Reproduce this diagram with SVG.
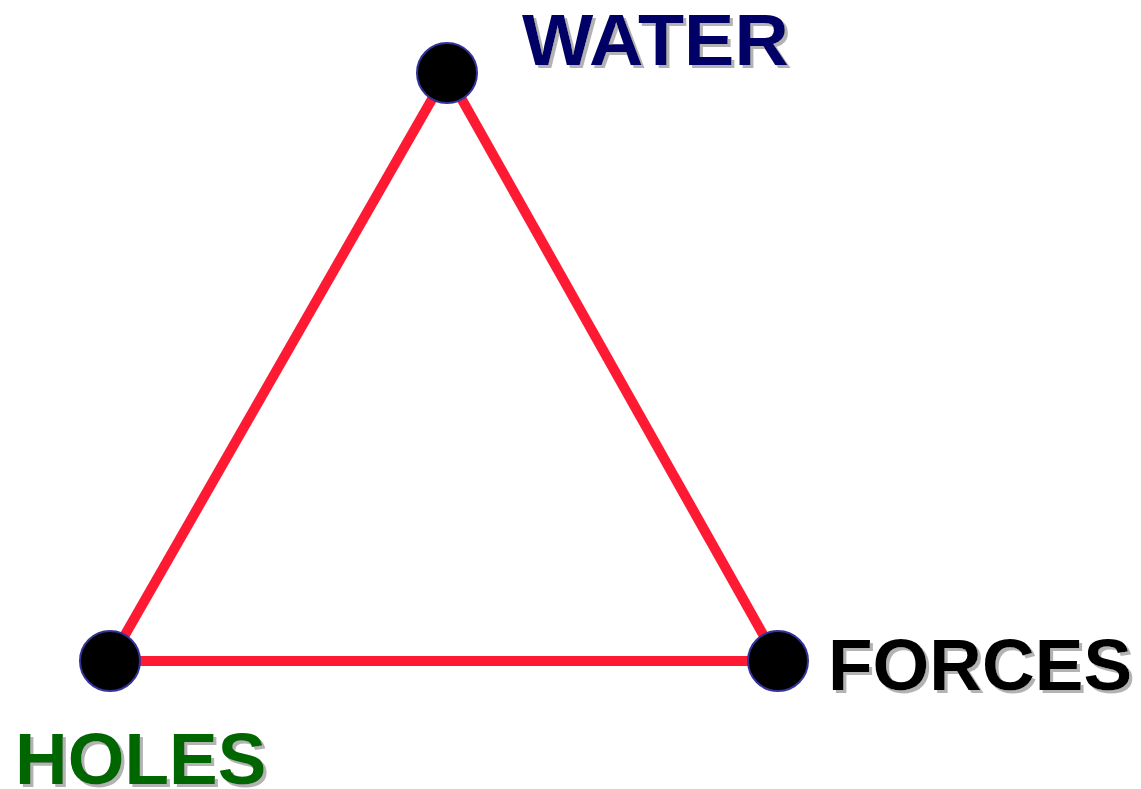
<svg xmlns="http://www.w3.org/2000/svg" width="1141" height="789" viewBox="0 0 1141 789">
<defs>
<filter id="shadow" x="-5%" y="-5%" width="115%" height="120%">
<feDropShadow dx="3" dy="3" stdDeviation="0.6" flood-color="#b3b3b3" flood-opacity="1"/>
</filter>
</defs>
<style>
.edge{stroke:#ff1a33;stroke-width:10;fill:none;stroke-linecap:butt}
.node{fill:#000;stroke:#333399;stroke-width:2}
.lbl{font-family:"Liberation Sans",Arial,sans-serif;font-weight:bold;font-size:73px;filter:url(#shadow)}
</style>
<rect width="1141" height="789" fill="#fff"/>
<g id="connectors">
<line class="edge" x1="447" y1="73" x2="110" y2="661"/>
<line class="edge" x1="447" y1="73" x2="778" y2="661"/>
<line class="edge" x1="110" y1="661" x2="778" y2="661"/>
</g>
<g id="water">
<circle class="node" cx="447" cy="73" r="30"/>
<text class="lbl" x="522" y="65" fill="#000066" textLength="267" lengthAdjust="spacingAndGlyphs">WATER</text>
</g>
<g id="forces">
<circle class="node" cx="778" cy="661" r="30"/>
<text class="lbl" x="828" y="690" fill="#000">FORCES</text>
</g>
<g id="holes">
<circle class="node" cx="110" cy="661" r="30"/>
<text class="lbl" x="15" y="784" fill="#006600">HOLES</text>
</g>
</svg>
